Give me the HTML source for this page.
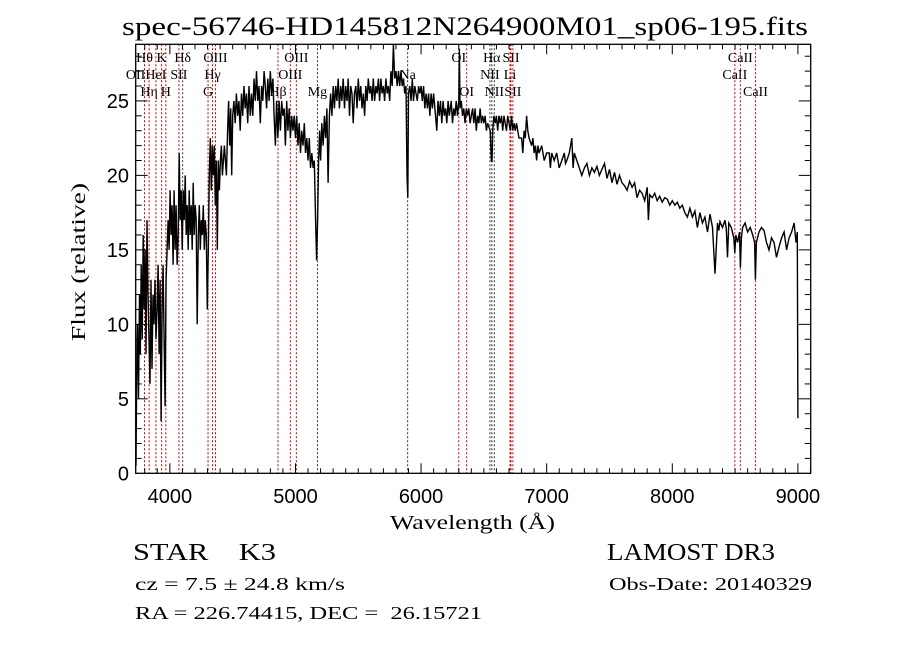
<!DOCTYPE html>
<html><head><meta charset="utf-8"><style>
html,body{margin:0;padding:0;background:#fff;}
svg{display:block;}
text{fill:#000;white-space:pre;}
</style></head><body>
<svg id="chart" width="900" height="649" viewBox="0 0 900 649" xmlns="http://www.w3.org/2000/svg" xml:space="preserve">
<rect width="900" height="649" fill="#fff"/>
<text x="122" y="35" font-family="Liberation Serif, serif" font-size="26" textLength="686" lengthAdjust="spacingAndGlyphs">spec-56746-HD145812N264900M01_sp06-195.fits</text>
<g id="lines"></g>
<g id="spec"></g>
<g id="axes"></g>
<text x="390" y="529" font-family="Liberation Serif, serif" font-size="20" textLength="165" lengthAdjust="spacingAndGlyphs">Wavelength (Å)</text>
<text transform="translate(85,341) rotate(-90)" font-family="Liberation Serif, serif" font-size="20" textLength="158" lengthAdjust="spacingAndGlyphs">Flux (relative)</text>
<text x="133" y="560" font-family="Liberation Serif, serif" font-size="24" textLength="143" lengthAdjust="spacingAndGlyphs">STAR    K3</text>
<text x="607" y="560" font-family="Liberation Serif, serif" font-size="24" textLength="168" lengthAdjust="spacingAndGlyphs">LAMOST DR3</text>
<text x="135" y="590" font-family="Liberation Serif, serif" font-size="18" textLength="210" lengthAdjust="spacingAndGlyphs">cz = 7.5 ± 24.8 km/s</text>
<text x="609" y="590" font-family="Liberation Serif, serif" font-size="18" textLength="203" lengthAdjust="spacingAndGlyphs">Obs-Date: 20140329</text>
<text x="135" y="619" font-family="Liberation Serif, serif" font-size="18" textLength="347" lengthAdjust="spacingAndGlyphs">RA = 226.74415, DEC =  26.15721</text>
</svg>
<script>
const waves = [3730,3735,3742,3750,3758,3765,3772,3780,3788,3795,3803,3810,3818,3826,3834,3842,3850,3858,3866,3874,3882,3890,3898,3906,3914,3922,3930,3938,3946,3954,3962,3970,3978,3986,3994,4002,4010,4018,4026,4034,4042,4050,4058,4066,4074,4082,4090,4098,4106,4114,4122,4130,4138,4146,4154,4162,4170,4178,4186,4194,4202,4210,4218,4226,4234,4242,4250,4258,4266,4274,4282,4290,4298,4306,4314,4322,4330,4338,4346,4354,4362,4370,4378,4386,4394,4402,4410,4418,4426,4434,4442,4450,4460,4468,4476,4484,4492,4500,4510,4520,4530,4540,4550,4560,4570,4580,4590,4600,4610,4620,4630,4640,4650,4660,4670,4680,4690,4700,4710,4720,4730,4740,4750,4760,4770,4780,4790,4800,4810,4820,4830,4840,4850,4860,4870,4880,4890,4900,4910,4920,4930,4940,4950,4960,4970,4980,4990,5000,5010,5020,5030,5040,5050,5060,5070,5080,5090,5100,5110,5120,5130,5140,5150,5160,5168,5176,5184,5192,5200,5210,5220,5230,5240,5250,5260,5270,5280,5290,5300,5310,5320,5330,5340,5350,5360,5370,5380,5390,5400,5410,5420,5430,5440,5450,5460,5470,5480,5490,5500,5510,5520,5530,5540,5550,5560,5570,5580,5590,5600,5610,5620,5630,5640,5650,5660,5670,5680,5690,5700,5710,5720,5730,5740,5750,5760,5770,5780,5790,5800,5810,5820,5830,5840,5850,5860,5870,5880,5888,5894,5900,5910,5920,5930,5940,5950,5960,5970,5980,5990,6000,6010,6020,6030,6040,6050,6060,6070,6080,6090,6100,6110,6125,6135,6145,6155,6165,6175,6185,6195,6205,6215,6225,6240,6250,6260,6270,6280,6290,6300,6305,6310,6320,6330,6340,6350,6360,6370,6380,6390,6400,6410,6420,6430,6440,6450,6460,6470,6480,6490,6500,6510,6520,6530,6550,6560,6565,6570,6580,6590,6600,6610,6620,6630,6640,6650,6660,6670,6680,6690,6700,6710,6720,6730,6740,6750,6760,6780,6800,6810,6820,6830,6840,6850,6860,6880,6890,6900,6910,6920,6930,6940,6960,6980,7000,7020,7030,7040,7060,7080,7100,7120,7140,7150,7160,7180,7200,7210,7220,7240,7260,7280,7300,7320,7340,7360,7380,7400,7420,7440,7460,7480,7500,7520,7540,7560,7580,7600,7620,7640,7660,7680,7700,7720,7740,7760,7780,7800,7810,7820,7840,7860,7880,7900,7920,7940,7960,7980,8000,8020,8040,8060,8080,8100,8120,8140,8160,8180,8200,8220,8240,8260,8280,8300,8320,8340,8360,8370,8380,8400,8420,8430,8440,8450,8470,8490,8498,8506,8520,8535,8542,8550,8560,8580,8600,8620,8640,8655,8662,8670,8690,8710,8730,8750,8770,8790,8810,8830,8850,8870,8890,8910,8930,8950,8970,8985,8995,9000];
const fluxes = [0.5,6,10,5,12,8,14,9,16,11,15,8,17,12,9,6,13,7,12,10,13,9,11,14,8,13,3.5,11,14,9,4.5,13,15,17,15,19,16,18,14,19,15,18,14,16,21.5,17,19,15,19,17,20,16,18,15,19,16,18,15,19.5,16,18,17,10,16,18,15,17,16,18,15,17,16,11,15,20,22.5,19,22,20,22,18,21,15,21,19,21,22,20,21,22,21,20,23,25,22,24.5,20,24,25,23.5,25.5,24,25,23,25.5,24,26,24.5,25.5,23.5,26,24,25.5,24,26.5,25,27,25,26,23.5,26,25,27,26,24.5,26.5,25,27,25.5,26.5,24,22,25,22.5,25,23,25,24,24.5,22,25,23,24.5,22.5,24,23,24,22.5,24,22,23.5,21.5,23,22,23.5,21.5,22.5,21,22.5,20.5,21.5,20.5,21,17,14.3,17,21,23,21,23.5,22,24,22.5,24.5,19.5,24,25.5,24,26,24.5,26,25,26.5,24.5,26,25,26.5,24.5,26,25,26.5,24,26,25.5,23.5,25.5,26,24.5,26.5,25,26,24.5,25.5,24,26,25,26.5,25.5,26,25,26.5,25,26,25.5,26.5,25,26.5,25.5,26,25,26.5,25.5,26,25,27,26,28.8,26.5,27,26,27,26,27,26,26.5,25.5,26,20,18.5,25.5,26,25,26.5,25,26,25.5,25,26,25.5,26,25,26,24.5,25.5,24.5,25.5,24,25.5,24.5,25.5,24.5,23,25,24,25,23.5,25,24,24.5,23.5,25,24,25,23.5,24.5,24,25,24,25,28.5,24.5,25,24,24.5,23.5,24.5,24,24.5,23.5,24,24.5,23.5,24.5,23,24,23.5,24.5,23.5,24,23.5,24,23,23.5,23,21,20.9,23,24,23.5,24,23,24,23.5,24,23,24,23.5,23,24,23.5,23,24,23,23.5,23,23.5,22.5,22.5,21.5,23,22.5,24,23,22.5,22,22.5,21.5,22,21,22,21.5,22,21,21.5,21.5,20.5,21.5,21,21.5,20.5,21,21.5,20.8,21,21.5,22.5,20.5,21.5,21,20.5,20,20.5,20.8,20,20.5,20.2,20.6,20,20.4,20.8,19.8,20.4,19.5,20.2,19.4,20,19.5,19.3,19,19.6,19.2,19.5,18.5,19,18.8,18.3,19.2,17,18.7,18.5,18.8,18.3,18.6,18.2,18.5,18.4,18,18.3,18,18.2,17.8,18,17.5,17.2,17.8,17.2,17.6,16.5,17.5,16.8,17.2,16.2,17.4,16.5,13.4,16.8,16.3,16.9,16.5,17,16.4,14.5,16.8,16.5,15.8,14.8,16,15.5,16.2,13.8,15.8,16.5,16.8,16.2,16.5,16,15.5,13,15.5,16.2,16.5,16.3,15.5,15,15.8,15.5,14.5,15.2,15.8,16.2,15,15.8,16.2,16.8,15.5,16.2,3.7];
const xTicks = [4000,5000,6000,7000,8000,9000];
const xTickLabels = ["4000","5000","6000","7000","8000","9000"];
const yTicks = [0,5,10,15,20,25];
const yTickLabels = ["0","5","10","15","20","25"];
const lineWaves = [3727,3798,3835,3889,3934,3968,4072,4102,4304,4340,4363,4861,4959,5007,5175,5893,6300,6363,6548,6563,6583,6708,6716,6731,8498,8542,8662];
const lineLabels = ["OII","Hθ","Hη","HeI","K","H","SII","Hδ","G","Hγ","OIII","Hβ","OIII","OIII","Mg","Na","OI","OI","NII","Hα","NII","Li","SII","SII","CaII","CaII","CaII"];
const lineRows = [1,0,2,1,0,2,1,0,2,1,0,2,1,0,2,1,0,2,1,0,2,1,0,2,1,0,2];
const lineDark = [0,0,0,0,0,0,0,1,0,0,0,0,0,0,1,1,0,0,1,1,1,0,0,0,0,0,0];

const X0=135.7,X1=810.7,Y0=473.3,Y1=44.3,WMIN=3728,WMAX=9102,FMIN=0,FMAX=28.8;
function xs(w){return X0+(w-WMIN)/(WMAX-WMIN)*(X1-X0);}
function ys(f){return Y0-(f-FMIN)/(FMAX-FMIN)*(Y0-Y1);}
const NS="http://www.w3.org/2000/svg";
function mk(t,a,p){const e=document.createElementNS(NS,t);for(const k in a)e.setAttribute(k,a[k]);p.appendChild(e);return e;}

const lg=document.getElementById('lines');
const rowY=[62,79,96];
for(let i=0;i<lineWaves.length;i++){
  const x=xs(lineWaves[i]);
  const l=mk('line',{x1:x,x2:x,y1:Y1,y2:Y0,stroke:lineDark[i]?'#333':'#c00000','stroke-width':1,'stroke-dasharray':'2,2'},lg);
  
  
  const t=mk('text',{x:x,y:rowY[lineRows[i]],'text-anchor':'middle','font-family':'Liberation Serif, serif','font-size':14},lg);
  t.textContent=lineLabels[i];
  
  
}

const sg=document.getElementById('spec');
let d='';
for(let i=0;i<waves.length;i++){d+=(i?'L':'M')+xs(waves[i]).toFixed(1)+','+ys(fluxes[i]).toFixed(1);}
const p=mk('path',{d:d,fill:'none',stroke:'#000','stroke-width':1.4,'stroke-linejoin':'miter'},sg);



const ag=document.getElementById('axes');
const fr=mk('rect',{x:X0,y:Y1,width:X1-X0,height:Y0-Y1,fill:'none',stroke:'#000','stroke-width':1.3},ag);


for(let w=3800;w<=9100;w+=100){
  const x=xs(w);const big=(w%1000===0);const L=big?10:5;
  mk('line',{x1:x,x2:x,y1:Y0,y2:Y0-L,stroke:'#000'},ag);
  mk('line',{x1:x,x2:x,y1:Y1,y2:Y1+L,stroke:'#000'},ag);
}
for(let f=1;f<=28;f++){
  const y=ys(f);const big=(f%5===0);const L=big?12:6;
  mk('line',{x1:X0,x2:X0+L,y1:y,y2:y,stroke:'#000'},ag);
  mk('line',{x1:X1,x2:X1-L,y1:y,y2:y,stroke:'#000'},ag);
}
for(let i=0;i<xTicks.length;i++){
  const t=mk('text',{x:xs(xTicks[i]),y:503,'text-anchor':'middle','font-family':'Liberation Sans, sans-serif','font-size':20},ag);
  t.textContent=xTickLabels[i];
  
  
}
for(let i=0;i<yTicks.length;i++){
  const t=mk('text',{x:129,y:ys(yTicks[i])+7,'text-anchor':'end','font-family':'Liberation Sans, sans-serif','font-size':20},ag);
  t.textContent=yTickLabels[i];
  
  
}
</script>
</body></html>
